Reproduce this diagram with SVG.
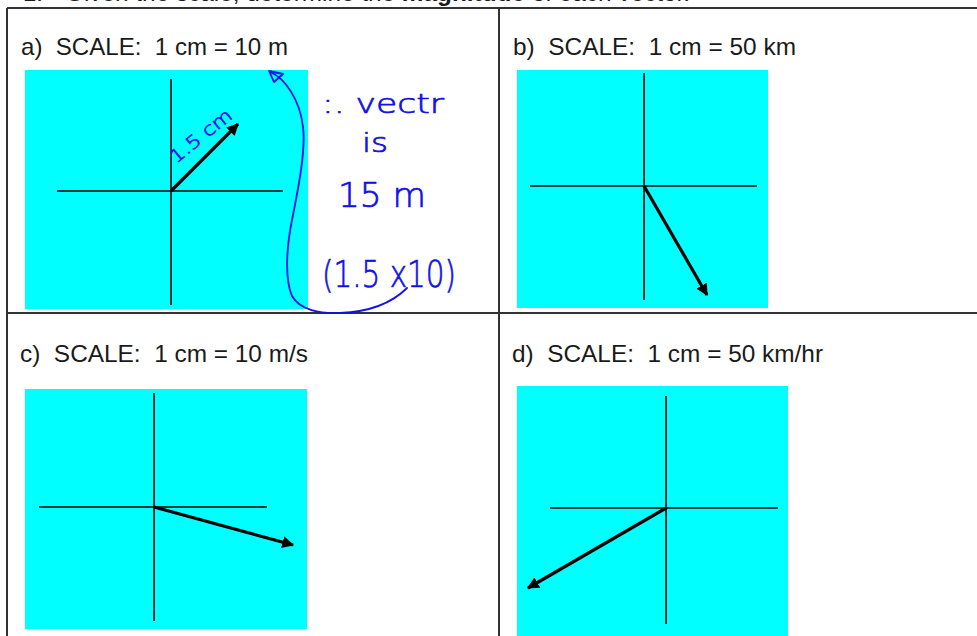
<svg xmlns="http://www.w3.org/2000/svg" width="977" height="636" viewBox="0 0 977 636">
<style>
.tbl{stroke:#333;stroke-width:2;fill:none}
.bg{fill:#00ffff}
.ax{stroke:#000;stroke-width:1.6;fill:none}
.vec{stroke:#000;stroke-width:3.2;fill:none;marker-end:url(#ah)}
.lbl{font-family:"Liberation Sans",Arial,sans-serif;font-size:24px;fill:#1a1a1a;white-space:pre}
.hw{font-family:"DejaVu Sans","Liberation Sans",sans-serif;font-weight:200;fill:#1010e8;stroke:#1010e8;stroke-width:0.7}
.ink{stroke:#1010e8;stroke-width:1.8;fill:none;stroke-linecap:round;stroke-linejoin:round}
</style>
<defs>
<marker id="ah" viewBox="0 0 10 10" refX="9" refY="5" markerWidth="12" markerHeight="12" markerUnits="userSpaceOnUse" orient="auto">
<path d="M0,0 L10,5 L0,10 z" fill="#000"/>
</marker>
</defs>
<rect width="977" height="636" fill="#fff"/>
<g id="title">
<text class="lbl" x="23" y="1" font-size="21">1.</text>
<text class="lbl" x="65" y="1" font-size="21" textLength="625" lengthAdjust="spacingAndGlyphs">Given the scale, determine the <tspan font-weight="bold">magnitude</tspan> of each vector.</text>
</g>
<g id="table">
<line class="tbl" x1="7" y1="8" x2="977" y2="8"/>
<line class="tbl" x1="7" y1="8" x2="7" y2="636"/>
<line class="tbl" x1="499" y1="8" x2="499" y2="636"/>
<line class="tbl" x1="7" y1="313" x2="977" y2="313"/>
</g>
<g id="panel-a">
<text class="lbl" x="21" y="55" textLength="267" lengthAdjust="spacingAndGlyphs">a)  SCALE:  1 cm = 10 m</text>
<rect class="bg" x="25" y="70" width="283" height="239"/>
<line class="ax" x1="171" y1="79" x2="171" y2="305"/>
<line class="ax" x1="57" y1="191" x2="283" y2="191"/>
</g>
<g id="panel-b">
<text class="lbl" x="513" y="55" textLength="283" lengthAdjust="spacingAndGlyphs">b)  SCALE:  1 cm = 50 km</text>
<rect class="bg" x="517" y="70" width="251" height="238"/>
<line class="ax" x1="644" y1="73" x2="644" y2="300"/>
<line class="ax" x1="530" y1="186" x2="757" y2="186"/>
</g>
<g id="panel-c">
<text class="lbl" x="20" y="362" textLength="288" lengthAdjust="spacingAndGlyphs">c)  SCALE:  1 cm = 10 m/s</text>
<rect class="bg" x="25" y="389" width="282" height="240"/>
<line class="ax" x1="154" y1="393" x2="154" y2="621"/>
<line class="ax" x1="39" y1="507" x2="267" y2="507"/>
</g>
<g id="panel-d">
<text class="lbl" x="512" y="362" textLength="311" lengthAdjust="spacingAndGlyphs">d)  SCALE:  1 cm = 50 km/hr</text>
<rect class="bg" x="517" y="386" width="271" height="250"/>
<line class="ax" x1="666" y1="396" x2="666" y2="624"/>
<line class="ax" x1="550" y1="508" x2="778" y2="508"/>
</g>
<g id="vectors">
<line class="vec" x1="171" y1="191" x2="238" y2="124"/>
<line class="vec" x1="644" y1="186" x2="707" y2="295"/>
<line class="vec" x1="154" y1="507" x2="293" y2="545"/>
<line class="vec" x1="666" y1="508" x2="528" y2="588"/>
</g>
<g id="handwriting">
<text class="hw" font-size="18" transform="translate(176,164) rotate(-39)" textLength="74" lengthAdjust="spacingAndGlyphs">1.5 cm</text>
<text class="hw" x="322" y="113" font-size="27" textLength="122" lengthAdjust="spacingAndGlyphs">:. vectr</text>
<text class="hw" x="362" y="152" font-size="26" textLength="26" lengthAdjust="spacingAndGlyphs">is</text>
<text class="hw" x="338" y="207" font-size="34" textLength="88" lengthAdjust="spacingAndGlyphs">15 m</text>
<text class="hw" x="322" y="287" font-size="38" textLength="134" lengthAdjust="spacingAndGlyphs">(1.5 x10)</text>
<path class="ink" d="M270,72 C285,78 300,100 303,127 C306,150 298,190 292,220 C286,250 285,280 292,296 C300,310 320,314 340,313 C365,312 390,305 407,288"/>
<path class="ink" d="M269,71 L283,74 L274,82 Z"/>
</g>
</svg>
